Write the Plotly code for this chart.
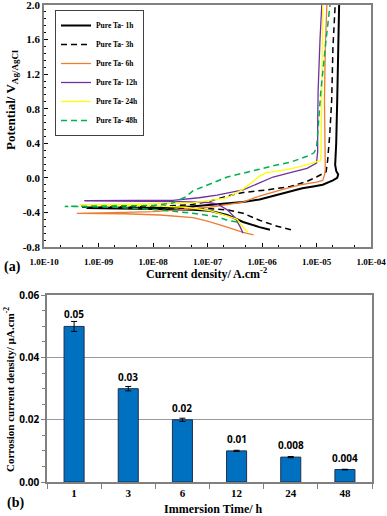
import plotly.graph_objects as go

# ---------------- data: polarization curves (current density A/cm2, potential V) ----------------
names = ["Pure Ta- 1h", "Pure Ta- 3h", "Pure Ta- 6h", "Pure Ta- 12h", "Pure Ta- 24h", "Pure Ta- 48h"]

i_1h = [1.4e-6, 9e-7, 4.5e-7, 2.3e-7, 1.1e-7, 5.4e-8, 1e-8, 2e-9, 6e-10,
        2e-9, 1e-8, 5e-8, 1.1e-7, 4.5e-7, 9e-7, 1.9e-6, 3.3e-6, 5.5e-6, 8.7e-6, 1.3e-5,
        2.0e-5, 2.4e-5, 2.5e-5, 2.3e-5, 2.2e-5, 2.3e-5, 2.4e-5, 2.5e-5, 2.6e-5]
e_1h = [-0.60, -0.57, -0.51, -0.43, -0.38, -0.37, -0.36, -0.355, -0.35,
        -0.345, -0.345, -0.33, -0.31, -0.28, -0.25, -0.20, -0.16, -0.12, -0.10, -0.08,
        -0.03, 0.00, 0.04, 0.08, 0.15, 0.40, 0.90, 1.50, 2.00]

i_3h = [3.4e-6, 1.9e-6, 9e-7, 4.5e-7, 2.3e-7, 1e-7, 1e-8, 5e-10,
        1e-8, 5e-8, 1.1e-7, 2.3e-7, 4.5e-7, 1.2e-6, 3.3e-6, 6.7e-6, 1.0e-5, 1.5e-5,
        1.6e-5, 1.75e-5, 1.9e-5, 2.0e-5, 2.2e-5]
e_3h = [-0.60, -0.56, -0.49, -0.41, -0.37, -0.355, -0.345, -0.34,
        -0.335, -0.31, -0.27, -0.21, -0.17, -0.14, -0.10, -0.04, 0.01, 0.07,
        0.20, 0.50, 0.90, 1.50, 2.00]

i_6h = [7e-7, 4.5e-7, 2.3e-7, 1e-7, 5.4e-8, 1.35e-8, 3e-9, 4e-10,
        3e-9, 1e-8, 3e-8, 1.1e-7, 4.5e-7, 9e-7, 2.5e-6, 5e-6, 1.0e-5, 1.3e-5,
        1.4e-5, 1.45e-5, 1.4e-5, 1.45e-5, 1.55e-5]
e_6h = [-0.66, -0.63, -0.57, -0.50, -0.46, -0.43, -0.415, -0.41,
        -0.40, -0.39, -0.37, -0.34, -0.28, -0.21, -0.13, -0.08, -0.05, -0.03,
        0.03, 0.10, 0.90, 1.50, 2.00]

i_12h = [4.5e-7, 4e-7, 3.2e-7, 2.3e-7, 1.5e-7, 1e-7, 3e-8, 5e-9, 5.5e-10,
         5e-9, 2.3e-8, 7e-8, 1.5e-7, 4.5e-7, 9e-7, 1.6e-6, 3.3e-6, 6.7e-6, 1.0e-5,
         1.05e-5, 1.05e-5, 1.07e-5, 1.16e-5, 1.25e-5]
e_12h = [-0.64, -0.57, -0.46, -0.37, -0.30, -0.285, -0.275, -0.27, -0.265,
         -0.26, -0.26, -0.23, -0.20, -0.14, -0.06, 0.01, 0.06, 0.11, 0.17,
         0.30, 0.60, 1.00, 1.60, 2.00]

i_24h = [5.5e-7, 4.5e-7, 3.5e-7, 2.3e-7, 1.1e-7, 4e-8, 5e-9, 4.5e-10,
         5e-9, 3e-8, 5.4e-8, 1.5e-7, 2.3e-7, 3.5e-7, 4.5e-7, 6e-7, 8e-7, 9.1e-7,
         1.2e-6, 2.5e-6, 5e-6, 9.4e-6, 1.2e-5, 1.25e-5, 1.3e-5]
e_24h = [-0.63, -0.57, -0.48, -0.44, -0.38, -0.34, -0.315, -0.31,
         -0.305, -0.30, -0.29, -0.25, -0.23, -0.17, -0.13, -0.07, 0.00, 0.02,
         0.06, 0.09, 0.13, 0.18, 0.20, 0.90, 2.00]

i_48h = [3.5e-7, 2.3e-7, 1.5e-7, 5.4e-8, 1.35e-8, 2e-9, 2.4e-10,
         2e-9, 1e-8, 2.3e-8, 4e-8, 5.4e-8, 1.1e-7, 2.3e-7, 9e-7, 1.6e-6, 3.3e-6, 6.7e-6, 9e-6,
         1.0e-5, 1.05e-5, 1.2e-5, 1.5e-5, 1.77e-5]
e_48h = [-0.51, -0.49, -0.45, -0.41, -0.37, -0.34, -0.33,
         -0.325, -0.32, -0.29, -0.22, -0.15, -0.07, 0.01, 0.10, 0.14, 0.18, 0.25, 0.29,
         0.35, 0.50, 1.00, 1.60, 2.00]

currents = [i_1h, i_3h, i_6h, i_12h, i_24h, i_48h]
potentials = [e_1h, e_3h, e_6h, e_12h, e_24h, e_48h]
line_colors = ["#000000", "#000000", "#ED7D31", "#7030A0", "#FFFF00", "#00B050"]
line_dashes = ["solid", "6px,4px", "solid", "solid", "solid", "6px,4px"]
line_widths = [2.0, 1.5, 1.3, 1.3, 1.3, 1.5]

x_tickvals = [1e-10, 1e-9, 1e-8, 1e-7, 1e-6, 1e-5, 1e-4]
x_ticktext = ["1.0E-10", "1.0E-09", "1.0E-08", "1.0E-07", "1.0E-06", "1.0E-05", "1.0E-04"]
y_tickvals = [-0.8, -0.4, 0.0, 0.4, 0.8, 1.2, 1.6, 2.0]
y_ticktext = ["-0.8", "-0.4", "0.0", "0.4", "0.8", "1.2", "1.6", "2.0"]

# ---------------- data: corrosion current density bars ----------------
times = ["1", "3", "6", "12", "24", "48"]
icorr = [0.05, 0.03, 0.02, 0.01, 0.008, 0.004]
icorr_err = [0.0016, 0.0007, 0.0005, 0.0002, 0.0002, 0.0001]
icorr_labels = ["0.05", "0.03", "0.02", "0.01", "0.008", "0.004"]

SERIF = "Liberation Serif"
SANS = "Open Sans"

fig = go.Figure()

for nm, xi, yi, c, d, w in zip(names, currents, potentials, line_colors, line_dashes, line_widths):
    fig.add_trace(go.Scatter(x=xi, y=yi, mode="lines", name=nm,
                             line=dict(color=c, dash=d, width=w),
                             xaxis="x", yaxis="y"))

fig.add_trace(go.Bar(x=times, y=icorr, xaxis="x2", yaxis="y2", width=0.37,
                     marker=dict(color="#0070C0", line=dict(color="#1F2F4F", width=1)),
                     error_y=dict(type="data", array=icorr_err, color="#000000",
                                  thickness=1, width=3),
                     showlegend=False))

for k, (v, lab) in enumerate(zip(icorr, icorr_labels)):
    fig.add_annotation(x=k, y=v, xref="x2", yref="y2", text=lab, showarrow=False,
                       xanchor="center", yanchor="middle",
                       yshift=12, font=dict(family=SANS, size=10, color="#000000", weight="bold"))

frame = "#808080"
fig.update_layout(
    template="none",
    width=387, height=516,
    margin=dict(l=0, r=0, t=0, b=0),
    paper_bgcolor="white", plot_bgcolor="white",
    showlegend=True,
    legend=dict(x=55/387, y=1-10/516, xanchor="left", yanchor="top",
                bgcolor="white", bordercolor="#404040", borderwidth=1,
                font=dict(family=SERIF, size=7.5, color="#000000", weight="bold"),
                itemwidth=30, tracegroupgap=0),
    xaxis=dict(domain=[44/387, 371/387], anchor="y", type="log", automargin=False,
               range=[-10, -4], tickvals=x_tickvals, ticktext=x_ticktext,
               ticks="inside", ticklen=4, tickcolor="#000000", ticklabelstandoff=5,
               ticklabeloverflow="allow",
               minor=dict(ticks="inside", ticklen=2, tickcolor="#000000", showgrid=False),
               showline=True, linecolor=frame, linewidth=1.5, mirror=True,
               showgrid=False, zeroline=False,
               tickfont=dict(family=SERIF, size=9, color="#000000", weight="bold")),
    yaxis=dict(domain=[1-247/516, 1-5/516], anchor="x", range=[-0.8, 2.0001], automargin=False,
               tickvals=y_tickvals, ticktext=y_ticktext, ticklabeloverflow="allow",
               ticks="inside", ticklen=4, tickcolor="#000000",
               minor=dict(ticks="inside", ticklen=2, dtick=0.08, tick0=0, tickcolor="#000000", showgrid=False),
               showline=True, linecolor=frame, linewidth=1.5, mirror=True,
               showgrid=False, zeroline=False,
               tickfont=dict(family=SERIF, size=11, color="#000000", weight="bold")),
    xaxis2=dict(domain=[47/387, 372/387], anchor="y2", type="category", automargin=False,
                range=[-0.5, len(times) - 0.5],
                ticks="outside", ticklen=5, tickson="boundaries", tickcolor=frame,
                showline=True, linecolor=frame, linewidth=1.5, mirror=True,
                showgrid=False,
                tickfont=dict(family=SERIF, size=11, color="#000000", weight="bold")),
    yaxis2=dict(domain=[1-482/516, 1-295/516], anchor="x2", range=[0, 0.0601], automargin=False,
                tickvals=[0, 0.02, 0.04, 0.06], tickformat=".2f", ticklabeloverflow="allow",
                ticks="outside", ticklen=4, tickcolor=frame,
                minor=dict(ticks="outside", ticklen=3, dtick=0.005, tick0=0, tickcolor=frame, showgrid=False),
                showline=True, linecolor=frame, linewidth=1.5, mirror=True,
                showgrid=True, gridcolor="#9a9a9a", gridwidth=1, zeroline=False,
                tickfont=dict(family=SANS, size=10, color="#000000", weight="bold")),
)

ann_font = dict(family=SERIF, color="#000000", weight="bold")
common = dict(xref="paper", yref="paper", showarrow=False, xanchor="center", yanchor="middle")
fig.add_annotation(x=11/387, y=1-100/516, text="Potential/ V<sub>Ag/AgCl</sub>", textangle=-90,
                   font=dict(size=13, **ann_font), **common)
fig.add_annotation(x=207/387, y=1-273/516, text="Current density/ A.cm<sup>-2</sup>",
                   font=dict(size=12, **ann_font), **common)
fig.add_annotation(x=12/387, y=1-267/516, text="(a)", font=dict(size=14, **ann_font), **common)
fig.add_annotation(x=9/387, y=1-390/516, text="Corrosion current density/ µA.cm<sup>-2</sup>",
                   textangle=-90, font=dict(size=11, **ann_font), **common)
fig.add_annotation(x=214/387, y=1-509/516, text="Immersion Time/ h",
                   font=dict(size=12, **ann_font), **common)
fig.add_annotation(x=15/387, y=1-503/516, text="(b)", font=dict(size=14, **ann_font), **common)

fig.write_html("out.html", config={"displayModeBar": False},
               post_script="document.body.style.margin='0px';document.body.style.overflow='hidden';")
